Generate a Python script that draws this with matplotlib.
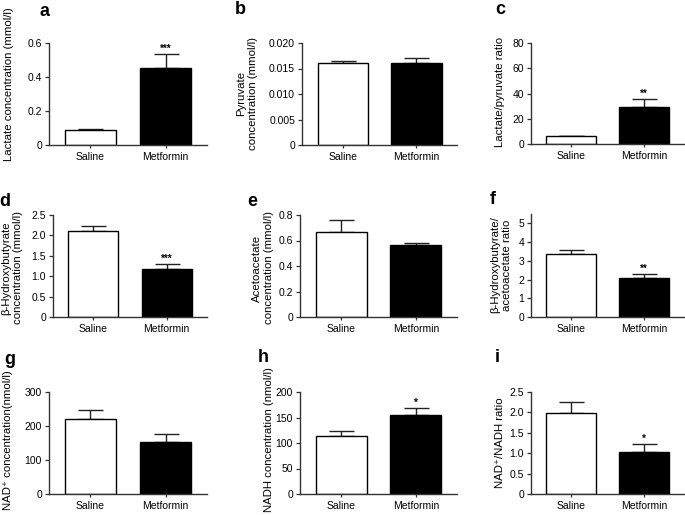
import matplotlib
matplotlib.use("Agg")
import matplotlib.pyplot as plt

plt.rcParams['font.family'] = ['Liberation Sans', 'DejaVu Sans']

groups = ['Saline', 'Metformin']

# panel letter, y label, means, SEM, stars, y ticks
letters = ['a', 'b', 'c', 'd', 'e', 'f', 'g', 'h', 'i']
ylabels = ['Lactate concentration (mmol/l)',
           'Pyruvate\nconcentration (mmol/l)',
           'Lactate/pyruvate ratio',
           'β-Hydroxybutyrate\nconcentration (mmol/l)',
           'Acetoacetate\nconcentration (mmol/l)',
           'β-Hydroxybutyrate/\nacetoacetate ratio',
           'NAD⁺ concentration(nmol/l)',
           'NADH concentration (nmol/l)',
           'NAD⁺/NADH ratio']
means = [[0.088, 0.454], [0.0160, 0.0160], [6.0, 29.6],
         [2.115, 1.172], [0.664, 0.564], [3.34, 2.09],
         [222, 154], [114, 154.5], [1.98, 1.04]]
sems = [[0.008, 0.084], [0.0004, 0.0011], [0.4, 6.1],
        [0.115, 0.123], [0.097, 0.013], [0.23, 0.23],
        [26, 22], [10, 15], [0.27, 0.19]]
stars = [['', '***'], ['', ''], ['', '**'],
         ['', '***'], ['', ''], ['', '**'],
         ['', ''], ['', '*'], ['', '*']]
yticks = [[0, 0.2, 0.4, 0.6],
          [0, 0.005, 0.010, 0.015, 0.020],
          [0, 20, 40, 60, 80],
          [0, 0.5, 1.0, 1.5, 2.0, 2.5],
          [0, 0.2, 0.4, 0.6, 0.8],
          [0, 1, 2, 3, 4, 5],
          [0, 100, 200, 300],
          [0, 50, 100, 150, 200],
          [0, 0.5, 1.0, 1.5, 2.0, 2.5]]
ytick_labels = [['0', '0.2', '0.4', '0.6'],
                ['0', '0.005', '0.010', '0.015', '0.020'],
                ['0', '20', '40', '60', '80'],
                ['0', '0.5', '1.0', '1.5', '2.0', '2.5'],
                ['0', '0.2', '0.4', '0.6', '0.8'],
                ['0', '1', '2', '3', '4', '5'],
                ['0', '100', '200', '300'],
                ['0', '50', '100', '150', '200'],
                ['0', '0.5', '1.0', '1.5', '2.0', '2.5']]
ytops = [0.6, 0.020, 80, 2.5, 0.8, 5.5, 300, 200, 2.5]

W, H = 685, 515
# axes boxes in pixels: left, right, top, bottom
boxes = [(49, 207, 43, 145), (302, 457, 43, 145), (531, 684, 43, 144),
         (53, 207, 215, 317), (300, 457, 215, 317), (531, 684, 214, 317),
         (49, 207, 392, 494), (300, 457, 392, 494), (531, 684, 392, 494)]
# y label centre, pixels
label_pos = [(9, 84), (247, 93), (500, 92),
             (12, 268), (263, 268), (501, 265),
             (8, 440), (269, 440), (500, 443)]
letter_pos = [(44, 12), (240, 10), (500, 10),
              (5, 201), (252, 202), (493, 200),
              (10, 359), (263, 357), (497, 357)]

fig = plt.figure(figsize=(W / 100, H / 100), dpi=100)

for k in range(9):
    l, r, t, b = boxes[k]
    ax = fig.add_axes([l / W, 1 - b / H, (r - l) / W, (b - t) / H])
    x = [0, 1]
    ax.bar(x, means[k], width=0.68, color=['white', 'black'],
           edgecolor='black', linewidth=1.0, zorder=2)
    ax.errorbar(x, means[k], yerr=[[0, 0], sems[k]], fmt='none',
                ecolor='#222222', elinewidth=1.0, capsize=9, capthick=1.0, zorder=1)
    for i in range(2):
        if stars[k][i]:
            ax.annotate(stars[k][i], (x[i], means[k][i] + sems[k][i]),
                        xytext=(0, 0), textcoords='offset points',
                        ha='center', va='bottom', fontsize=7, fontweight='bold')
    ax.set_xlim(-0.55, 1.55)
    ax.set_ylim(0, ytops[k])
    ax.set_yticks(yticks[k])
    ax.set_yticklabels(ytick_labels[k])
    ax.set_xticks(x)
    ax.set_xticklabels(groups)
    for s in ['top', 'right']:
        ax.spines[s].set_visible(False)
    for s in ['left', 'bottom']:
        ax.spines[s].set_linewidth(1.0)
        ax.spines[s].set_color('#333333')
    ax.tick_params(axis='both', labelsize=7.5, length=3, width=0.9,
                   color='#333333', pad=2)
    ax.tick_params(axis='x', length=2, pad=3)
    ax.set_ylabel(ylabels[k], fontsize=8.2, va='center', ha='center',
                  multialignment='center')
    ax.yaxis.set_label_coords(label_pos[k][0] / W, 1 - label_pos[k][1] / H,
                              transform=fig.transFigure)
    fig.text(letter_pos[k][0] / W, 1 - letter_pos[k][1] / H, letters[k],
             fontsize=13, fontweight='bold', ha='center', va='center')

fig.savefig('out.png', dpi=100)
